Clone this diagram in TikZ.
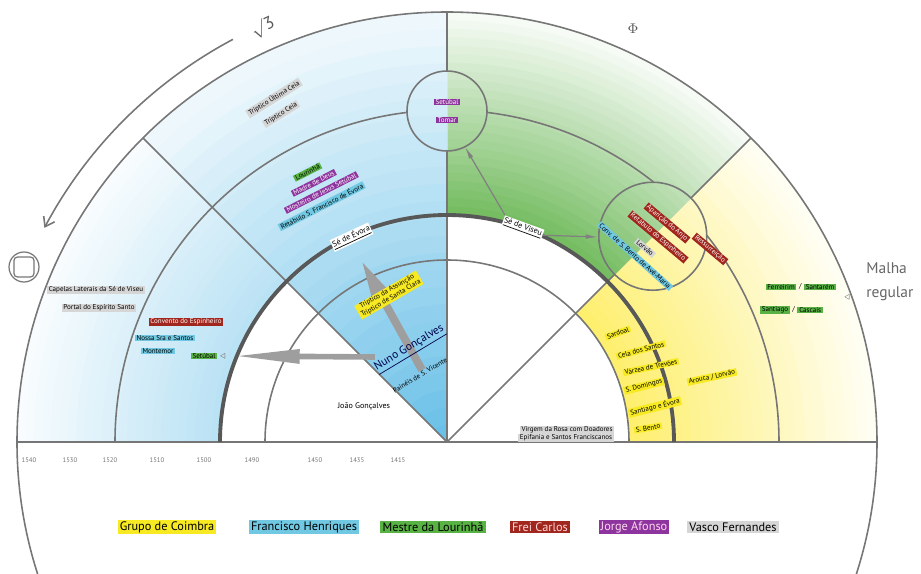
\documentclass[tikz,border=0pt]{standalone}
\usepackage{fontspec}
\setmainfont{PT Sans}
\usetikzlibrary{arrows.meta,positioning}

\definecolor{gridgray}{RGB}{118,118,118}
\definecolor{eragray}{RGB}{88,88,88}
\definecolor{fieldYellow}{RGB}{254,238,105}
\definecolor{fieldGreen}{RGB}{112,186,92}
\definecolor{fieldBlue}{RGB}{105,192,232}
\definecolor{tagYellow}{RGB}{247,234,35}
\definecolor{tagCyan}{RGB}{112,200,226}
\definecolor{tagGreen}{RGB}{88,178,68}
\definecolor{tagRed}{RGB}{160,38,30}
\definecolor{tagPurple}{RGB}{142,52,158}
\definecolor{tagGray}{RGB}{214,214,214}

\newcommand{\tagfont}{\fontsize{4}{4.4}\selectfont}
\newcommand{\yearfont}{\fontsize{3.8}{4.2}\selectfont}
\newcommand{\legendfont}{\fontsize{7}{8}\selectfont}

\tikzset{
  grid line/.style={draw=gridgray, line width=0.9pt},
  era arc/.style={draw=eragray, line width=2.2pt},
  tag/.style={inner xsep=1pt, inner ysep=0.4pt, font=\tagfont},
  coimbra/.style={tag, fill=tagYellow},
  henriques/.style={tag, fill=tagCyan},
  lourinha/.style={tag, fill=tagGreen},
  carlos/.style={tag, fill=tagRed, text=white},
  afonso/.style={tag, fill=tagPurple, text=white},
  fernandes/.style={tag, fill=tagGray},
  bare label/.style={inner sep=0.5pt, font=\tagfont},
  cathedral/.style={inner sep=0.6pt, fill=white, font=\fontsize{4.6}{5}\selectfont},
  year/.style={inner sep=1pt, font=\yearfont, text=black!55},
  legend tag/.style={inner xsep=1.2pt, inner ysep=1pt, font=\legendfont},
  big arrow/.style={draw=black!38, line cap=butt},
  link arrow/.style={draw=black!50, line width=0.7pt, -{Latex[length=7pt,width=2.6pt]}},
  marker/.style={inner sep=0pt, text=black!55, font=\tagfont}
}

\begin{document}
\begin{tikzpicture}[scale=0.02]
\useasboundingbox (-447,-131) rectangle (474,442);

% colour fields of the sectors
\foreach \i in {24,...,0} {
  \pgfmathsetmacro\rr{182+\i*10.34}
  \pgfmathtruncatemacro\mix{100-\i*3.8}
  \fill[fieldYellow!\mix!white] (0:182) -- (0:\rr) arc[start angle=0, end angle=45, radius=\rr] -- (45:182) arc[start angle=45, end angle=0, radius=182] -- cycle;
}
\foreach \i in {24,...,0} {
  \pgfmathsetmacro\rr{227+\i*8.46}
  \pgfmathtruncatemacro\mix{100-\i*3.9}
  \fill[fieldGreen!\mix!white] (45:227) -- (45:\rr) arc[start angle=45, end angle=90, radius=\rr] -- (90:227) arc[start angle=90, end angle=45, radius=227] -- cycle;
}
\foreach \i in {24,...,0} {
  \pgfmathsetmacro\rr{(\i+1)*17.2}
  \pgfmathtruncatemacro\mix{100-\i*3.7}
  \fill[fieldBlue!\mix!white] (0,0) -- (90:\rr) arc[start angle=90, end angle=135, radius=\rr] -- cycle;
}
\foreach \i in {24,...,0} {
  \pgfmathsetmacro\rr{227+\i*8.46}
  \pgfmathtruncatemacro\mix{48-\i*1.8}
  \fill[fieldBlue!\mix!white] (135:227) -- (135:\rr) arc[start angle=135, end angle=180, radius=\rr] -- (180:227) arc[start angle=180, end angle=135, radius=227] -- cycle;
}

% grid
\draw[grid line] (0,0) circle (430);
\draw[grid line, line width=1.1pt] (-430,0) -- (430,0);
\draw[grid line] (0,0) -- (135:430);
\draw[grid line] (0,0) -- (90:291) (90:371) -- (90:430);
\draw[grid line] (0,0) -- (45:237) (45:345) -- (45:430);
\draw[grid line] (182,0) arc[start angle=0, end angle=180, radius=182];
\draw[grid line] (332,0) arc[start angle=0, end angle=38.5, radius=332];
\draw[grid line] (51.5:332) arc[start angle=51.5, end angle=83.1, radius=332];
\draw[grid line] (96.9:332) arc[start angle=96.9, end angle=180, radius=332];
\draw[era arc] (227,0) arc[start angle=0, end angle=180, radius=227];
\draw[grid line] (0,331) circle (40);
\draw[grid line] (45:291) circle (54);

% proportion marks
\draw[grid line, -{Straight Barb[length=5pt,width=7pt]}] (118:456) arc[start angle=118, end angle=152, radius=456];
\node[text=black!65, font=\fontsize{10}{11}\selectfont, rotate=25] (sqrtthree) at (-184,414) {$\surd$3};
\node[text=black!65, font=\fontsize{8}{9}\selectfont] (phi) at (186,413) {$\Phi$};
\draw[grid line, line width=0.7pt] (-423,175) circle (15);
\draw[grid line, line width=0.7pt, rounded corners=2pt] (-433,165) rectangle (-413,185);
\node[anchor=west, align=left, inner sep=0pt, text=black!60, font=\fontsize{8.8}{13.5}\selectfont] (malha) at (419,160) {Malha\\regular};

% influence arrows
\coordinate (nunoFoot) at (-25,72);
\coordinate (evoraTip) at (-87,184);
\coordinate (nunoSide) at (-72,85);
\coordinate (setubalTip) at (-214,86);
\draw[big arrow, line width=4.5pt, -{Triangle[length=24pt,width=9pt]}] (nunoFoot) -- (evoraTip);
\draw[big arrow, line width=3.2pt, -{Triangle[length=38pt,width=7.5pt]}] (nunoSide) -- (setubalTip);

% 1415-1490
\node[bare label, font=\fontsize{6.5}{7}\selectfont, text=blue!30!black, rotate=31] (nuno) at (-37,93) {\underline{Nuno Gonçalves}};
\node[bare label, rotate=31] (vicente) at (-27,67) {Painéis de S. Vicente};
\node[bare label, font=\fontsize{4.6}{5}\selectfont] (joao) at (-83,36) {João Gonçalves};
\node[coimbra, rotate=30, align=center] (assuncao) at (-58,147) {Tríptico da Assunção\\Tríptico de Santa Clara};

% cathedrals
\node[cathedral, rotate=25] (evora) at (115:226) {\underline{Sé de Évora}};
\node[cathedral, rotate=-20] (viseu) at (70.5:227) {\underline{Sé de Viseu}};

% 90-135
\node[fernandes, rotate=32] (ultimaCeia) at (-173,344) {Tríptico Última Ceia};
\node[fernandes, rotate=32] (ceia) at (-166,328) {Tríptico Ceia};
\node[lourinha, rotate=27, anchor=west] (stackA) at (-153,263) {Lourinhã};
\node[afonso, rotate=27, anchor=west] (stackB) at (-155,248) {Madre de Deus};
\node[afonso, rotate=27, anchor=west] (stackC) at (-162,231) {Mosteiro de Jesus Setúbal};
\node[henriques, rotate=27, anchor=west] (stackD) at (-168,214) {Retábulo S. Francisco de Évora};
\node[afonso] (ringSetubal) at (0,340) {Setúbal};
\node[afonso] (ringTomar) at (0,322) {Tomar};

% 135-180
\node[fernandes] (capelas) at (-351,152) {Capelas Laterais da Sé de Viseu};
\node[fernandes] (portal) at (-348,134) {Portal do Espírito Santo};
\node[carlos] (espinheiro) at (-261,120) {Convento do Espinheiro};
\node[henriques] (nsra) at (-282,104) {Nossa Sra e Santos};
\node[henriques] (montemor) at (-289,91) {Montemor};
\node[lourinha] (setubalL) at (-243,86) {Setúbal};
\node[marker, right=1pt of setubalL] (markL) {$\triangleleft$};

% 45-90 ring
\node[henriques, rotate=-42] (bento) at (188,186) {Conv. de S. Bento de Avé-Maria};
\node[carlos, rotate=-40] (carlosA) at (220,219) {Aparição do Anjo};
\node[carlos, rotate=-40] (carlosB) at (211,205) {Retábulo do Espinheiro};
\node[fernandes, rotate=-40] (lorvao) at (198,194) {Lorvão};
\node[carlos, rotate=-40] (carlosC) at (263,193) {Ressurreição};

\draw[link arrow] (viseu.north west) -- (18,295);
\draw[link arrow] (viseu.east) -- (151,205);

% 0-45
\node[coimbra, rotate=20] (sardoal) at (171,109) {Sardoal};
\node[coimbra, rotate=15] (cela) at (194,92) {Cela dos Santos};
\node[coimbra, rotate=12] (varzea) at (204,75) {Várzea de Trevões};
\node[coimbra, rotate=14] (sdomingos) at (197,56) {S. Domingos};
\node[coimbra, rotate=14] (santiagoY) at (208,35) {Santiago e Évora};
\node[coimbra, rotate=10] (sbento) at (201,14) {S. Bento};
\node[coimbra, rotate=12] (arouca) at (265,65) {Arouca / Lorvão};
\node[fernandes] (virgem) at (120,12) {Virgem da Rosa com Doadores};
\node[fernandes] (epifania) at (119,4) {Epifania e Santos Franciscanos};
\node[lourinha] (ferreirim) at (334,155) {Ferreirim};
\node[bare label, right=0.5pt of ferreirim] (slashF) {/};
\node[lourinha, right=0.5pt of slashF] (santarem) {Santarém};
\node[lourinha] (santiagoG) at (328,132) {Santiago};
\node[bare label, right=0.5pt of santiagoG] (slashS) {/};
\node[lourinha, right=0.5pt of slashS] (cascais) {Cascais};
\node[marker] (markR) at (400,145) {$\triangleleft$};

% years
\foreach \x/\yr in {-418/1540, -377/1530, -337/1520, -290/1510, -243/1500, -195/1490, -132/1450, -90/1435, -49/1415}
  \node[year] (y\yr) at (\x,-18) {\yr};

% legend
\node[legend tag, fill=tagYellow] (legCoimbra) at (-280,-85) {Grupo de Coimbra};
\node[legend tag, fill=tagCyan] (legHenriques) at (-143,-85) {Francisco Henriques};
\node[legend tag, fill=tagGreen] (legLourinha) at (-14,-85) {Mestre da Lourinhã};
\node[legend tag, fill=tagRed, text=white!85!red] (legCarlos) at (93,-85) {Frei Carlos};
\node[legend tag, fill=tagPurple, text=white!85!magenta] (legAfonso) at (187,-85) {Jorge Afonso};
\node[legend tag, fill=tagGray] (legFernandes) at (286,-85) {Vasco Fernandes};
\end{tikzpicture}
\end{document}
